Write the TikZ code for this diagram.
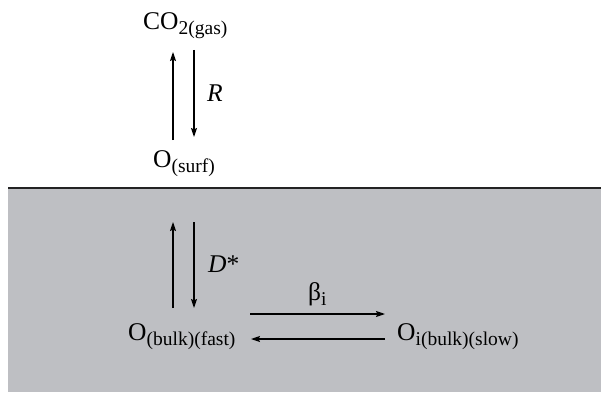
\documentclass[tikz,border=0pt]{standalone}
\usepackage{fontspec}
\setmainfont{Liberation Serif}
\usetikzlibrary{arrows.meta}
\definecolor{bulkgray}{RGB}{190,191,195}
\definecolor{edgegray}{RGB}{35,35,35}
\newcommand\subtxt[1]{\raisebox{-5pt}{\fontsize{19.5}{20}\selectfont #1}}
\tikzset{
  lbl/.style={anchor=base west, inner sep=0pt, font=\fontsize{25.5}{28}\selectfont},
  arr/.style={line width=1.2pt, -{Stealth[length=9pt,width=6pt,inset=1.5pt]}}
}
\begin{document}
\begin{tikzpicture}[x=1pt,y=-1pt]
\useasboundingbox (0,0) rectangle (601,393);
\fill[bulkgray] (8,189) rectangle (601,392);
\draw[edgegray, line width=2pt] (8,188) -- (601,188);
\node[lbl] (co2) at (143,30) {CO\subtxt{2(gas)}};
\node[lbl] (surf) at (153,167) {O\subtxt{(surf)}};
\node[lbl] (fast) at (128,340) {O\subtxt{(bulk)(fast)}};
\node[lbl] (slow) at (397,340) {O\subtxt{i(bulk)(slow)}};
\node[lbl] (R) at (207,102) {\textit{R}};
\node[lbl] (D) at (208,272) {\textit{D}*};
\node[lbl] (beta) at (308,300) {β\subtxt{i}};
\coordinate (upEnd) at (173,222);
\coordinate (downStart) at (194,222);
\draw[arr] ([shift={(20,-27)}]surf.base west) -- ([shift={(30,22)}]co2.base west);
\draw[arr] ([shift={(51,20)}]co2.base west) -- ([shift={(41,-30)}]surf.base west);
\draw[arr] ([shift={(45,-32)}]fast.base west) -- (upEnd);
\draw[arr] (downStart) -- ([shift={(66,-32)}]fast.base west);
\draw[arr] ([shift={(122,-26)}]fast.base west) -- ([shift={(-12,-26)}]slow.base west);
\draw[arr] ([shift={(-12,-1)}]slow.base west) -- ([shift={(123,-1)}]fast.base west);
\end{tikzpicture}
\end{document}
